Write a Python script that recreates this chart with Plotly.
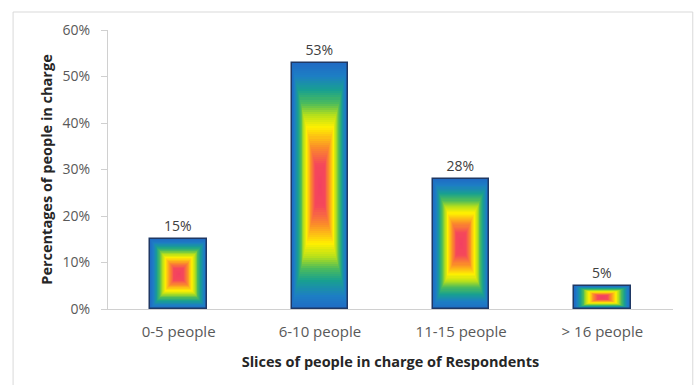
import plotly.graph_objects as go

# Share of respondents by number of people in charge
categories = ["0-5 people", "6-10 people", "11-15 people", "> 16 people"]
shares = [0.15, 0.53, 0.28, 0.05]
labels = ["15%", "53%", "28%", "5%"]

BAR_WIDTH = 0.4
LEVELS = 60
FONT = "Open Sans, Lato, sans-serif"

# Rainbow path-gradient stops: 0 = bar centre, 1 = bar edge
STOPS = [
    (0.00, (242, 63, 98)),
    (0.18, (245, 72, 90)),
    (0.32, (251, 140, 42)),
    (0.48, (255, 240, 0)),
    (0.58, (184, 224, 26)),
    (0.68, (76, 187, 92)),
    (0.78, (24, 160, 144)),
    (0.90, (29, 126, 196)),
    (1.00, (31, 108, 196)),
]


def ramp(d):
    for (d0, c0), (d1, c1) in zip(STOPS[:-1], STOPS[1:]):
        if d0 <= d <= d1:
            f = (d - d0) / (d1 - d0) if d1 > d0 else 0
            r, g, b = (round(a + (b_ - a) * f) for a, b_ in zip(c0, c1))
            return f"rgb({r},{g},{b})"
    return "rgb(31,108,196)"


fig = go.Figure()

# Concentric bars, outermost first, each scaled about the bar centre
for k in range(LEVELS):
    d = 1 - k / LEVELS
    fig.add_trace(go.Bar(
        x=categories,
        y=[v * d for v in shares],
        base=[v * (1 - d) / 2 for v in shares],
        width=BAR_WIDTH * d,
        marker=dict(color=ramp(d), line=dict(width=0)),
        hoverinfo="skip",
        showlegend=False,
    ))

# Outline and value labels
fig.add_trace(go.Bar(
    x=categories,
    y=shares,
    width=BAR_WIDTH,
    marker=dict(color="rgba(0,0,0,0)", line=dict(color="#1f3864", width=1.5)),
    text=labels,
    textposition="outside",
    textfont=dict(family=FONT, size=14, color="#404040"),
    cliponaxis=False,
    showlegend=False,
))

fig.update_layout(
    width=698,
    height=385,
    margin=dict(l=108, r=25, t=30, b=76),
    barmode="overlay",
    bargap=0,
    uniformtext=dict(minsize=14, mode="show"),
    plot_bgcolor="white",
    paper_bgcolor="white",
    font=dict(family=FONT, color="#595959", size=13),
    xaxis=dict(
        showline=True,
        linecolor="#d0d0d0",
        linewidth=1,
        ticks="",
        ticklabelstandoff=9,
        tickfont=dict(family=FONT, size=15, color="#595959"),
        title=dict(
            text="<b>Slices of people in charge of Respondents</b>",
            font=dict(family=FONT, size=14.5, color="#262626"),
            standoff=16,
        ),
    ),
    yaxis=dict(
        range=[0, 0.6],
        dtick=0.1,
        tickformat=".0%",
        showgrid=False,
        zeroline=False,
        showline=True,
        linecolor="#d0d0d0",
        linewidth=1,
        ticks="outside",
        ticklen=6,
        tickcolor="#d0d0d0",
        ticklabelstandoff=8,
        tickfont=dict(family=FONT, size=14, color="#595959"),
        title=dict(
            text="<b>Percentages of people in charge</b>",
            font=dict(family=FONT, size=14.5, color="#262626"),
            standoff=6,
        ),
    ),
    shapes=[dict(
        type="rect",
        xref="paper", yref="paper",
        x0=-0.168, x1=1.035, y0=-0.4, y1=1.0645,
        line=dict(color="#d9d9d9", width=1),
        fillcolor="rgba(0,0,0,0)",
        layer="below",
    )],
)

fig.write_html("out.html")
